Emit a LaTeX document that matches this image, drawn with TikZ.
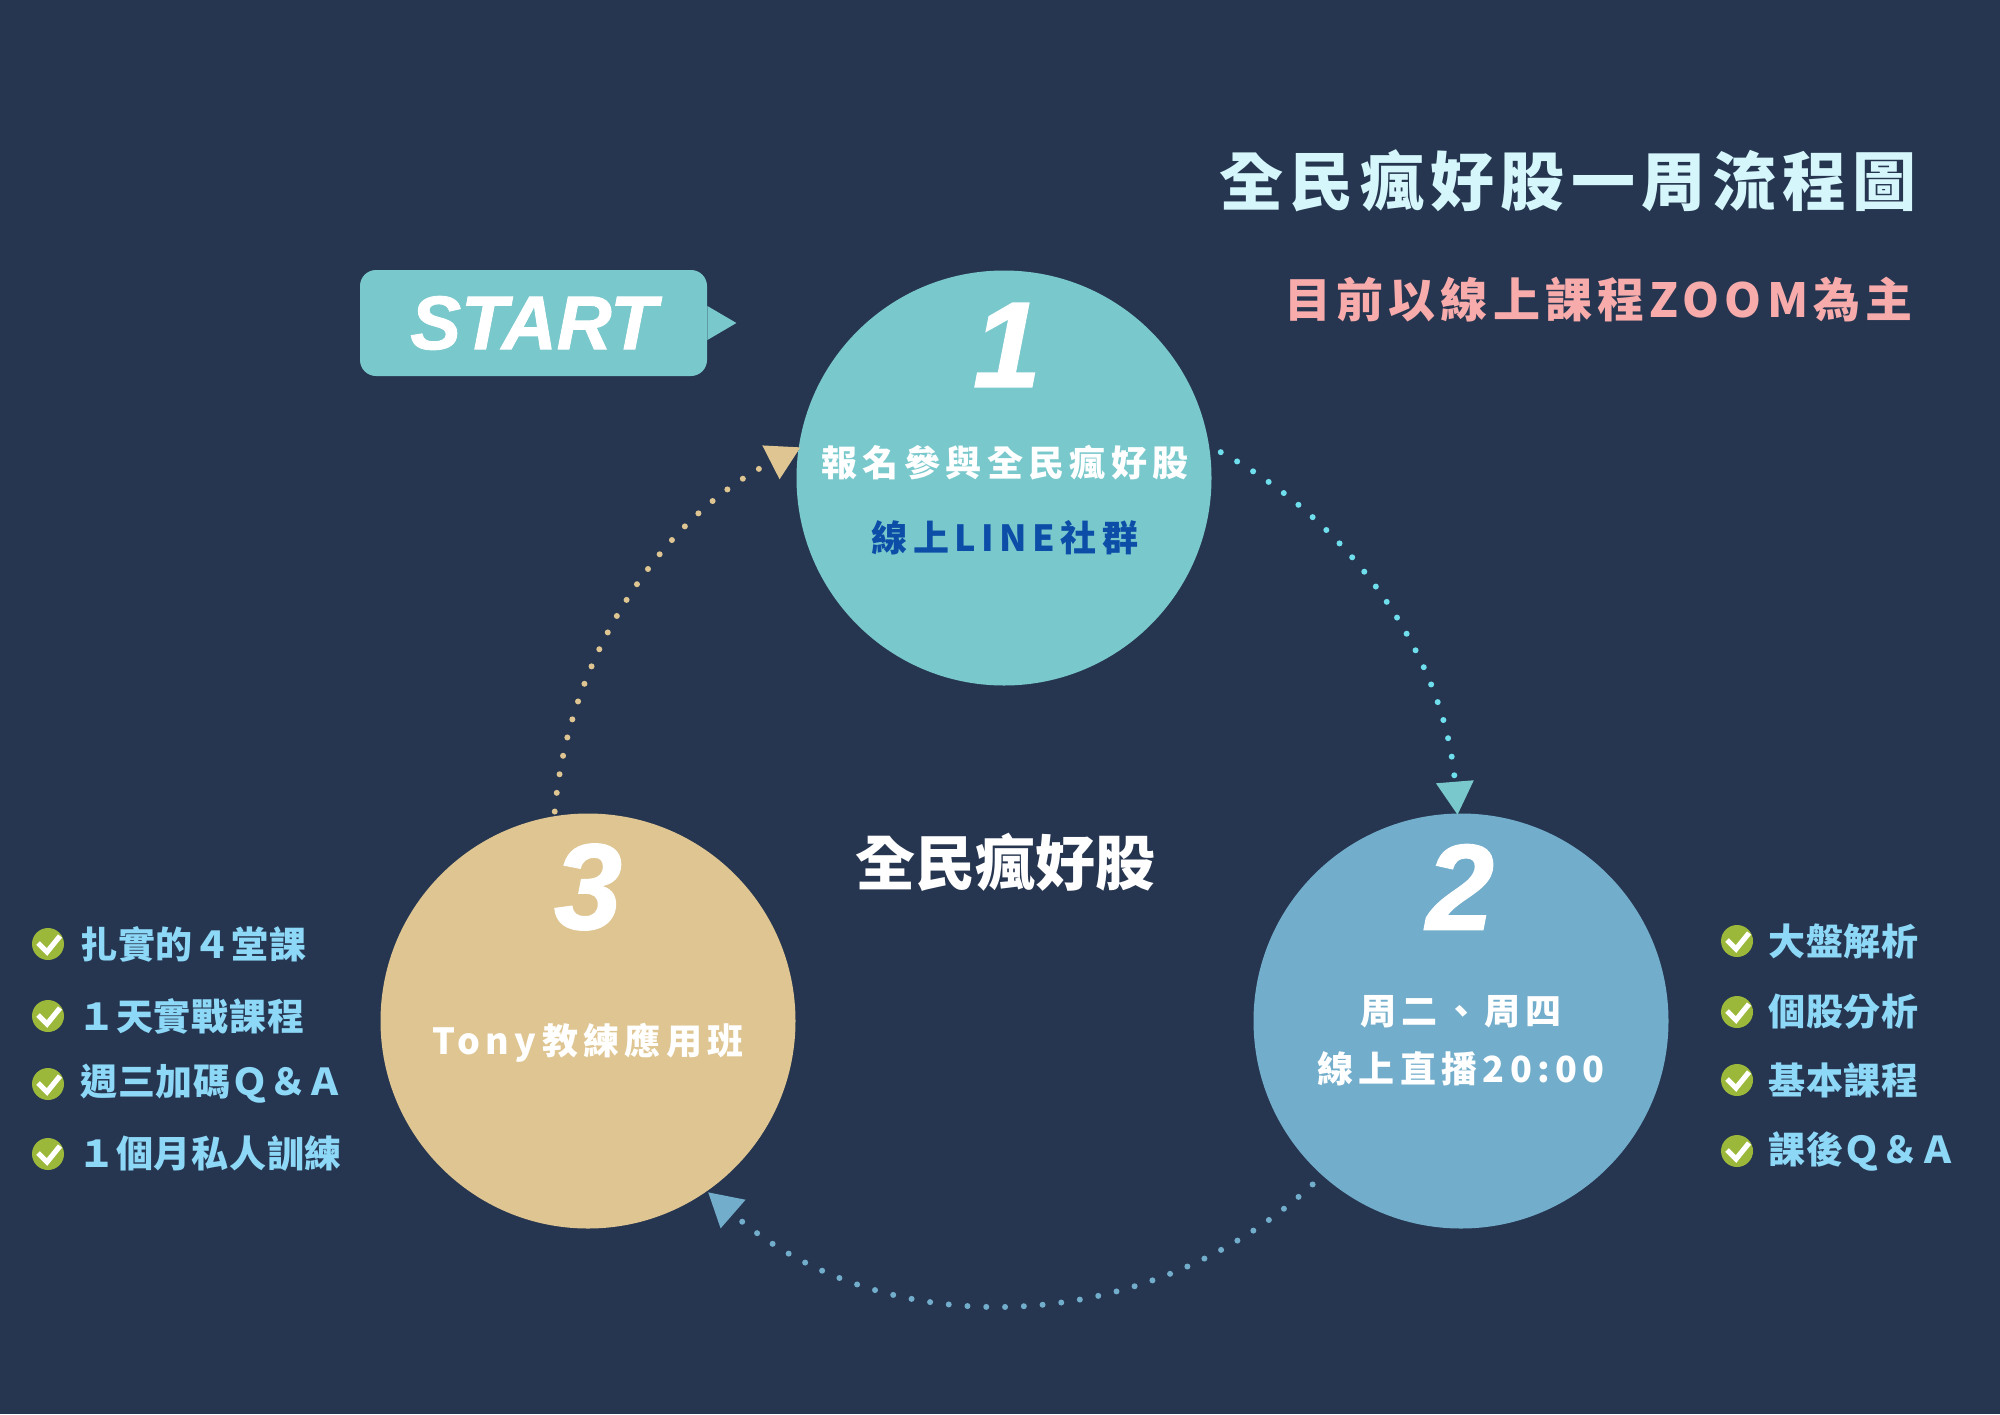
\documentclass[tikz,border=0pt]{standalone}
\usepackage{fontspec}
\usetikzlibrary{arrows.meta}
\newfontfamily\cjk{Noto Sans CJK TC}
\newfontfamily\cjkS{Noto Sans CJK TC}[LetterSpace=2]
\newfontfamily\cjkM{Noto Sans CJK TC}[LetterSpace=10]
\newfontfamily\cjkW{Noto Sans CJK TC}[LetterSpace=11]
\newfontfamily\cjkL{Noto Sans CJK TC}[LetterSpace=15]
\newfontfamily\latinbi{Liberation Sans}[BoldItalicFeatures={FakeBold=1.2}]
\definecolor{bgc}{HTML}{263650}
\definecolor{tealc}{HTML}{79C8CC}
\definecolor{bluec}{HTML}{72ADCB}
\definecolor{sandc}{HTML}{DEC591}
\definecolor{cyandot}{HTML}{6FDFEE}
\definecolor{titlec}{HTML}{D5F7FB}
\definecolor{pinkc}{HTML}{F7ABAB}
\definecolor{listc}{HTML}{8DD7F7}
\definecolor{greenc}{HTML}{9BB83B}
\definecolor{linec}{HTML}{0C4DA8}
\begin{document}
\begin{tikzpicture}[x=0.5pt,y=-0.5pt,
  bubble/.style={circle, minimum size=207.5pt, inner sep=0pt},
  bignum/.style={text=white, inner sep=0pt, font=\latinbi\bfseries\itshape\fontsize{61}{61}\selectfont},
  intext/.style={text=white, inner sep=0pt, font=\cjkL\bfseries\fontsize{18}{18}\selectfont},
  item/.style={text=listc, anchor=west, inner sep=0pt, font=\cjkS\bfseries\fontsize{18.5}{18.5}\selectfont},
  chk/.style={circle, fill=greenc, minimum size=16pt, inner sep=0pt,
    path picture={\draw[white, line width=2.6pt]
      ([shift={(-10,-1)}]path picture bounding box.center) --
      ([shift={(-1,8)}]path picture bounding box.center) --
      ([shift={(12,-8)}]path picture bounding box.center);}},
  dots/.style={line width=3pt, line cap=round, dash pattern=on 0pt off 9.4pt},
  startbox/.style={fill=tealc, rounded corners=8pt, minimum width=173.5pt, minimum height=53pt,
    inner sep=0pt, text=white, font=\latinbi\bfseries\itshape\fontsize{38}{38}\selectfont}
]
\fill[bgc] (0,0) rectangle (2000,1414);
\useasboundingbox (0,0) rectangle (2000,1414);

% title
\node[anchor=west, inner sep=0pt, text=titlec, font=\cjkM\bfseries\fontsize{32}{32}\selectfont] (title) at (1219,181) {全民瘋好股一周流程圖};
\node[anchor=west, inner sep=0pt, text=pinkc, font=\cjkW\bfseries\fontsize{23.5}{23.5}\selectfont] (sub) at (1284,300) {目前以線上課程ZOOM為主};

% start
\node[startbox] (start) at (533.5,323) {START};
\fill[tealc] ([yshift=8.5pt]start.east) -- ([xshift=14.5pt]start.east) -- ([yshift=-8.5pt]start.east) -- cycle;

% circles
\node[bubble, fill=tealc] (c1) at (1004,478) {};
\node[bubble, fill=bluec] (c2) at (1461,1021) {};
\node[bubble, fill=sandc] (c3) at (588,1021) {};

\node[bignum] (n1) at (1007,345) {1};
\node[bignum] (n2) at (1460,887) {2};
\node[bignum] (n3) at (588,887) {3};

\node[intext] (t1a) at (1005,463) {報名參與全民瘋好股};
\node[intext, text=linec] (t1b) at (1005,538) {線上LINE社群};
\node[intext] (t2a) at (1461,1012) {周二、周四};
\node[intext] (t2b) at (1461,1069) {線上直播20:00};
\node[intext] (t3) at (588,1043) {Tony教練應用班};

\node[inner sep=0pt, text=white, font=\cjk\bfseries\fontsize{30}{30}\selectfont] (mid) at (1005,862) {全民瘋好股};

% dotted ring arrows
\coordinate (ring) at (1006,851);
\coordinate (a12) at ([shift={(61.7:226.5pt)}]ring);
\coordinate (a23) at ([shift={(-47.4:226.5pt)}]ring);
\coordinate (a31) at ([shift={(175:226.5pt)}]ring);
\draw[dots, cyandot, -{Triangle[length=16.5pt, width=19pt, color=tealc, line width=0pt]}]
  (a12) arc[start angle=61.7, end angle=4.6, radius=226.5pt];
\draw[dots, bluec, -{Triangle[length=16.5pt, width=19pt, color=bluec, line width=0pt]}]
  (a23) arc[start angle=-47.4, end angle=-131.1, radius=226.5pt];
\draw[dots, sandc, -{Triangle[length=16.5pt, width=19pt, color=sandc, line width=0pt]}]
  (a31) arc[start angle=175, end angle=117, radius=226.5pt];

% left list
\node[chk] (k1) at (48,944) {};
\node[chk] (k2) at (48,1016) {};
\node[chk] (k3) at (48,1084) {};
\node[chk] (k4) at (48,1154) {};
\node[item] (i1) at (80,944) {扎實的４堂課};
\node[item] (i2) at (78,1016) {１天實戰課程};
\node[item] (i3) at (80,1084) {週三加碼Ｑ＆Ａ};
\node[item] (i4) at (78,1154) {１個月私人訓練};

% right list
\node[chk] (r1) at (1737,941) {};
\node[chk] (r2) at (1737,1012) {};
\node[chk] (r3) at (1737,1080) {};
\node[chk] (r4) at (1737,1151) {};
\node[item] (j1) at (1768,941) {大盤解析};
\node[item] (j2) at (1768,1012) {個股分析};
\node[item] (j3) at (1768,1080) {基本課程};
\node[item] (j4) at (1768,1151) {課後Ｑ＆Ａ};
\end{tikzpicture}
\end{document}
